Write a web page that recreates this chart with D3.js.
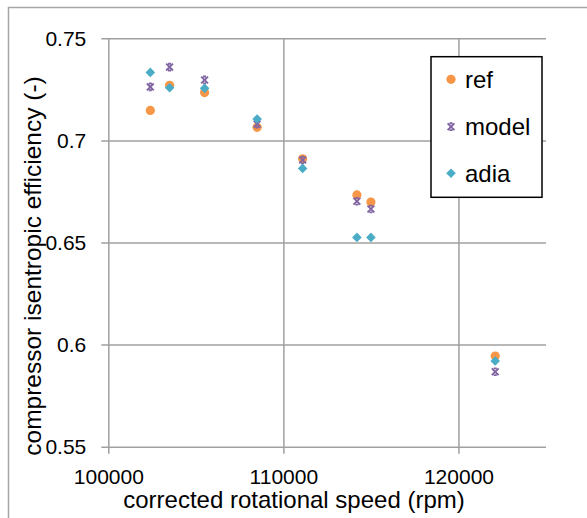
<!DOCTYPE html>
<head>
  <meta charset='utf-8'>
  <title>compressor efficiency</title>
  <style>
    body { margin: 0; background: #fff; }
    svg text { font-family: "Liberation Sans", Arial, sans-serif; fill: #000; }
  </style>
</head>

<body>
  <div id="chart"></div>

  <script src="https://cdnjs.cloudflare.com/ajax/libs/d3/7.8.5/d3.min.js"></script>
  <script type="text/javascript">
    // values
    var speed = [102400, 103500, 105500, 108500, 111100, 114200, 115000, 122100];
    var ref   = [0.7147, 0.7270, 0.7234, 0.7064, 0.6910, 0.6733, 0.6698, 0.5944];
    var model = [0.7262, 0.7359, 0.7296, 0.7080, 0.6904, 0.6702, 0.6664, 0.5867];
    var adia  = [0.7333, 0.7258, 0.7255, 0.7105, 0.6863, 0.6525, 0.6525, 0.5920];
    var xTicks = [100000, 110000, 120000];
    var yTicks = [0.55, 0.6, 0.65, 0.7, 0.75];
    var seriesNames = ["ref", "model", "adia"];
    var seriesColors = ["#f79646", "#8064a2", "#4bacc6"];

    var width = 587,
        height = 518,
        plotL = 108.3, plotR = 546, plotT = 38.3, plotB = 446.7;

    var svg = d3.select("#chart").append("svg")
        .attr("width", width)
        .attr("height", height);

    // outer frame (only left and top edges are visible)
    svg.append("path")
        .attr("d", "M8.5,518V7.5H587")
        .attr("fill", "none")
        .attr("stroke", "#a6a6a6")
        .attr("stroke-width", 1.5);

    var x = d3.scaleLinear().domain([100000, 125000]).range([plotL, plotR]);
    var y = d3.scaleLinear().domain([0.55, 0.75]).range([plotB, plotT]);

    var yAxis = svg.append("g")
        .attr("class", "grid")
        .attr("transform", "translate(" + (plotL - 7) + ",0)")
        .call(d3.axisLeft(y).tickValues(yTicks).tickSize(-(plotR - plotL + 7)).tickPadding(15)
          .tickFormat(function(d) { return String(+d.toFixed(2)); }));
    yAxis.select(".domain").remove();
    yAxis.selectAll("text").style("font-size", "21px");

    var xAxis = svg.append("g")
        .attr("class", "grid")
        .attr("transform", "translate(0," + (plotB + 7) + ")")
        .call(d3.axisBottom(x).tickValues(xTicks).tickSize(-(plotB - plotT + 7)).tickPadding(15)
          .tickFormat(d3.format("d")));
    xAxis.select(".domain").remove();
    xAxis.selectAll("text").style("font-size", "21px");
    svg.selectAll(".grid line").attr("stroke", "#a0a0a0").attr("stroke-width", 1.5);

    svg.append("text")
        .attr("x", 294)
        .attr("y", 508)
        .attr("text-anchor", "middle")
        .style("font-size", "24px")
        .text("corrected rotational speed (rpm)");

    svg.append("text")
        .attr("transform", "translate(41,266) rotate(-90)")
        .attr("text-anchor", "middle")
        .style("font-size", "24.5px")
        .text("compressor isentropic efficiency (-)");

    // marker shapes
    function starPath(s) {
      var b = s * 0.45;
      return "M" + (-s) + "," + (-s) + "L" + s + "," + s +
             "M" + s + "," + (-s) + "L" + (-s) + "," + s +
             "M" + (-b) + "," + (-s) + "H" + b +
             "M" + (-b) + "," + s + "H" + b;
    }
    function drawMarker(g, i) {
      if (i === 0) {
        g.append("circle").attr("r", 4.6).attr("fill", seriesColors[0]);
      } else if (i === 1) {
        g.append("path").attr("d", starPath(3.4))
          .attr("fill", "none").attr("stroke", seriesColors[1]).attr("stroke-width", 1.9);
      } else {
        g.append("path").attr("d", "M0,-4.8L4.8,0L0,4.8L-4.8,0Z").attr("fill", seriesColors[2]);
      }
    }

    var allSeries = [ref, model, adia];
    allSeries.forEach(function(vals, i) {
      var pts = svg.append("g").selectAll("g")
          .data(speed)
        .enter().append("g")
          .attr("transform", function(d, j) { return "translate(" + x(d) + "," + y(vals[j]) + ")"; });
      pts.each(function() { drawMarker(d3.select(this), i); });
    });

    // legend
    var legend = svg.append("g");
    legend.append("rect")
        .attr("x", 431).attr("y", 56.7)
        .attr("width", 111).attr("height", 140.6)
        .attr("fill", "#fff")
        .attr("stroke", "#000")
        .attr("stroke-width", 1.5);

    var legendY = [79.3, 126.7, 173.3];
    seriesNames.forEach(function(name, i) {
      var g = legend.append("g").attr("transform", "translate(451," + legendY[i] + ")");
      drawMarker(g, i);
      legend.append("text")
          .attr("x", 465)
          .attr("y", legendY[i] + 8.5)
          .style("font-size", "24px")
          .text(name);
    });
  </script>
</body>
